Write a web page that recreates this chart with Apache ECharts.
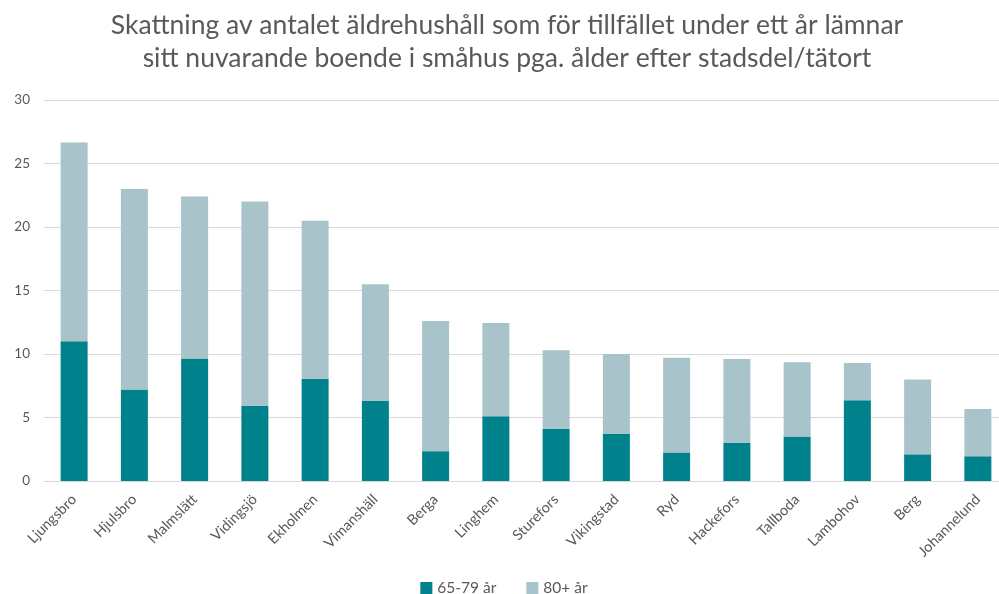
<!DOCTYPE html>
<html><head><meta charset="utf-8">
<script src="https://cdn.jsdelivr.net/npm/echarts@6/dist/echarts.min.js"></script>
<style>html,body{margin:0;padding:0;background:#fff;overflow:hidden}#c{width:1008px;height:594px}</style>
</head><body><div id="c"></div>
<script>
const categories = ["Ljungsbro","Hjulsbro","Malmslätt","Vidingsjö","Ekholmen","Vimanshäll","Berga","Linghem","Sturefors","Vikingstad","Ryd","Hackefors","Tallboda","Lambohov","Berg","Johannelund"];
const age6579 = [11.0, 7.2, 9.65, 5.9, 8.05, 6.3, 2.35, 5.1, 4.1, 3.7, 2.25, 3.0, 3.5, 6.35, 2.1, 1.95];
const total = [26.65, 23.0, 22.4, 22.0, 20.5, 15.5, 12.6, 12.45, 10.3, 10.0, 9.7, 9.6, 9.35, 9.3, 8.0, 5.67];
const age80plus = total.map((t, i) => +(t - age6579[i]).toFixed(2));
const yTicks = [0, 5, 10, 15, 20, 25, 30];
const titleLines = ["Skattning av antalet äldrehushåll som för tillfället under ett år lämnar", "sitt nuvarande boende i småhus pga. ålder efter stadsdel/tätort"];

const chart = echarts.init(document.getElementById('c'));
const font = 'Lato, "Open Sans", sans-serif';
chart.setOption({
  animation: false,
  title: {
    text: titleLines.join('\n'),
    left: 502, top: 4, textAlign: 'center',
    textStyle: { fontFamily: font, fontSize: 26.5, fontWeight: 'normal', color: '#595959', lineHeight: 33 }
  },
  legend: {
    top: 575, left: 'center',
    itemWidth: 12, itemHeight: 12, itemGap: 30,
    icon: 'rect',
    textStyle: { fontFamily: font, fontSize: 15.5, color: '#595959' },
    data: ['65-79 år', '80+ år']
  },
  grid: { left: 44, right: 0, top: 100, bottom: 113, containLabel: false },
  xAxis: {
    type: 'category', data: categories,
    axisLine: { lineStyle: { color: '#d9d9d9' } },
    axisTick: { show: false },
    axisLabel: { rotate: 45, interval: 0, fontFamily: font, fontSize: 14.5, color: '#595959', margin: 16 }
  },
  yAxis: {
    type: 'value', min: yTicks[0], max: yTicks[yTicks.length - 1], interval: 5,
    axisLine: { show: false }, axisTick: { show: false },
    axisLabel: { fontFamily: font, fontSize: 13.5, color: '#595959', margin: 14 },
    splitLine: { lineStyle: { color: '#d9d9d9', width: 1 } }
  },
  series: [
    { name: '65-79 år', type: 'bar', stack: 's', data: age6579, barWidth: 27, itemStyle: { color: '#00828C' } },
    { name: '80+ år', type: 'bar', stack: 's', data: age80plus, barWidth: 27, itemStyle: { color: '#A8C4CA' } }
  ]
});
</script></body></html>
